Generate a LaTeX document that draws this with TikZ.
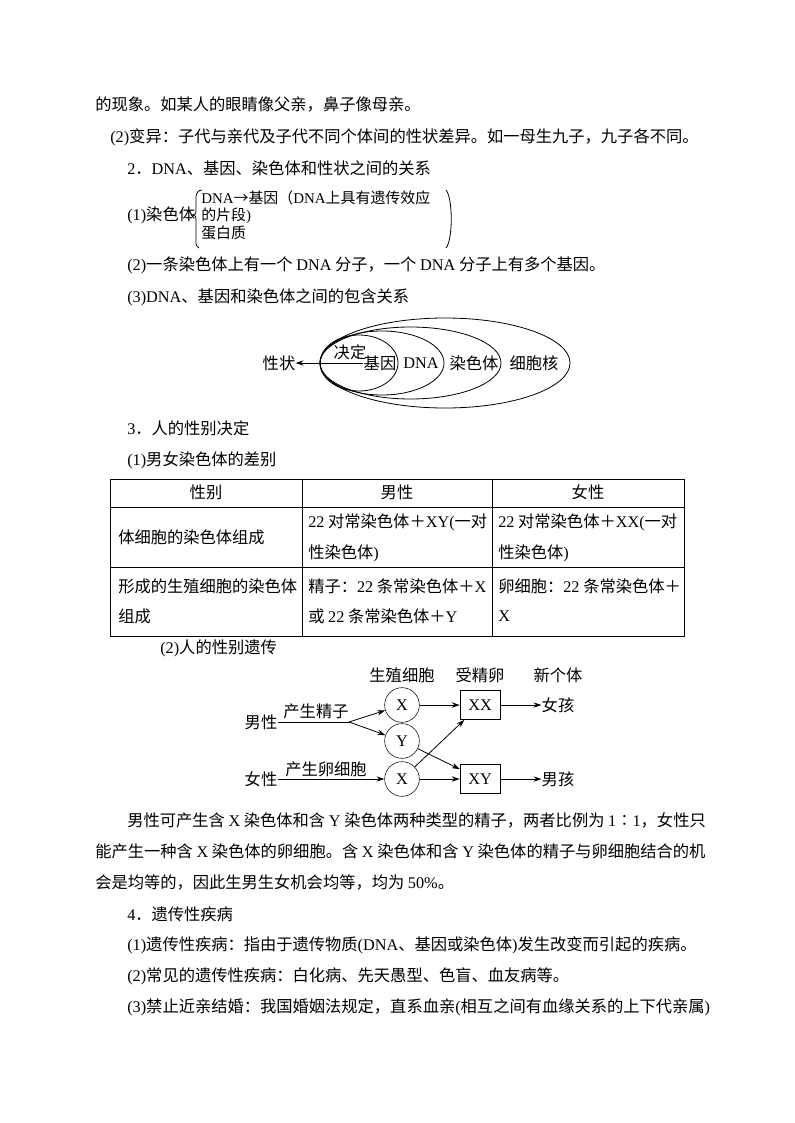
\documentclass[tikz,border=0pt]{standalone}
\usepackage{fontspec}
\setmainfont{Noto Sans CJK SC}
\newfontfamily\lt{Liberation Serif}
\newcommand{\Ls}[1]{{\lt #1}}
\usetikzlibrary{arrows.meta}
\begin{document}
\begin{tikzpicture}[x=0.75pt,y=-0.75pt,
  txt/.style={anchor=west,inner sep=0pt,font=\fontsize{12.2}{14}\selectfont},
  sm/.style={anchor=west,inner sep=0pt,font=\fontsize{11.2}{12}\selectfont},
  ctr/.style={inner sep=0pt,font=\fontsize{12.2}{14}\selectfont},
  cell/.style={circle,draw,minimum size=26,inner sep=0pt,font=\fontsize{12.2}{14}\selectfont},
  box/.style={draw,minimum width=30pt,minimum height=22pt,inner sep=0pt,font=\fontsize{12.2}{14}\selectfont},
  arr/.style={-{Stealth[length=6pt,width=4pt]},line width=0.6pt},
  ln/.style={line width=0.6pt}]
\useasboundingbox (0,0) rectangle (794,1123);
\fill[white] (0,0) rectangle (794,1123);
\node[txt] (l1) at (95,105) {的现象。如某人的眼睛像父亲，鼻子像母亲。};
\node[txt] (l2) at (110,137) {\Ls{(2)}变异：子代与亲代及子代不同个体间的性状差异。如一母生九子，九子各不同。};
\node[txt] (l3) at (127,168) {\Ls{2}．\Ls{DNA}、基因、染色体和性状之间的关系};
\node[txt] (l4) at (127,215) {\Ls{(1)}染色体};
\node[sm] (b1) at (201,198) {\Ls{DNA}→基因（\Ls{DNA}上具有遗传效应};
\node[sm] (b2) at (201,215.5) {的片段\Ls{)}};
\node[sm] (b3) at (201,233) {蛋白质};
\draw[ln] (202,190) .. controls (195,191) and (196,196) .. (196,205) -- (196,211) .. controls (196,214) .. (192,215) .. controls (196,216) .. (196,219) -- (196,240) .. controls (196,246) .. (199,248);
\draw[ln] (446,190) .. controls (453,198) and (453,240) .. (446,248);
\node[txt] (l5) at (127,265) {\Ls{(2)}一条染色体上有一个 \Ls{DNA} 分子，一个 \Ls{DNA} 分子上有多个基因。};
\node[txt] (l6) at (127,297) {\Ls{(3)DNA}、基因和染色体之间的包含关系};
% ellipses
\draw[ln] (359,363) ellipse [x radius=39,y radius=28];
\draw[ln] (382,363) ellipse [x radius=62,y radius=32];
\draw[ln] (410.5,363) ellipse [x radius=90.5,y radius=36];
\draw[ln] (445,363) ellipse [x radius=125,y radius=45];
\node[ctr] (gene) at (380,363) {基因};
\node[ctr] (dna) at (421,363) {\Ls{DNA}};
\node[ctr] (chr) at (474,363) {染色体};
\node[ctr] (nuc) at (534,363) {细胞核};
\node[ctr] (trait) at (279,363) {性状};
\draw[arr] (gene.west) -- (trait.east);
\node[ctr] (jd) at (350,352) {决定};
\node[txt] (l7) at (127,428) {\Ls{3}．人的性别决定};
\node[txt] (l8) at (127,460) {\Ls{(1)}男女染色体的差别};
% table
\draw[ln] (110,479) rectangle (684,636);
\draw[ln] (110,507) -- (684,507);
\draw[ln] (110,567) -- (684,567);
\draw[ln] (302,479) -- (302,636);
\draw[ln] (492,479) -- (492,636);
\node[ctr] (h1) at (206,492) {性别};
\node[ctr] (h2) at (397,492) {男性};
\node[ctr] (h3) at (588,492) {女性};
\node[txt] (c1) at (118,537) {体细胞的染色体组成};
\node[txt] (c2) at (308,522) {\Ls{22} 对常染色体＋\Ls{XY(}一对};
\node[txt] (c2b) at (308,553) {性染色体\Ls{)}};
\node[txt] (c3) at (498,522) {\Ls{22} 对常染色体＋\Ls{XX(}一对};
\node[txt] (c3b) at (498,553) {性染色体\Ls{)}};
\node[txt] (d1) at (118,586) {形成的生殖细胞的染色体};
\node[txt] (d1b) at (118,616) {组成};
\node[txt] (d2) at (308,586) {精子：\Ls{22} 条常染色体＋\Ls{X}};
\node[txt] (d2b) at (308,616) {或 \Ls{22} 条常染色体＋\Ls{Y}};
\node[txt] (d3) at (498,586) {卵细胞：\Ls{22} 条常染色体＋};
\node[txt] (d3b) at (498,616) {\Ls{X}};
\node[txt] (l9) at (160,648) {\Ls{(2)}人的性别遗传};
% inheritance
\node[ctr] (t1) at (402,675) {生殖细胞};
\node[ctr] (t2) at (480,675) {受精卵};
\node[ctr] (t3) at (558,675) {新个体};
\node[cell] (x1) at (402,705) {\Ls{X}};
\node[cell] (y1) at (402,741) {\Ls{Y}};
\node[cell] (x2) at (402,779) {\Ls{X}};
\node[box] (xx) at (480,705) {\Ls{XX}};
\node[box] (xy) at (480,779) {\Ls{XY}};
\node[ctr] (girl) at (558,705) {女孩};
\node[ctr] (boy) at (558,779) {男孩};
\node[ctr] (male) at (261,722) {男性};
\node[ctr] (female) at (261,779) {女性};
\coordinate (br) at (349,722);
\draw[ln] (male.east) -- (br);
\node[ctr] (ps) at (316,711) {产生精子};
\node[ctr] (pl) at (326,769) {产生卵细胞};
\draw[arr] (br) -- (x1);
\draw[arr] (br) -- (y1);
\draw[arr] (female.east) -- (x2);
\draw[arr] (x1) -- (xx);
\draw[arr] (x2) -- (xx);
\draw[arr] (y1) -- (xy);
\draw[arr] (x2) -- (xy);
\draw[arr] (xx) -- (girl);
\draw[arr] (xy) -- (boy);
\node[txt] (p1) at (127,820) {男性可产生含 \Ls{X} 染色体和含 \Ls{Y} 染色体两种类型的精子，两者比例为 \Ls{1}∶\Ls{1}，女性只};
\node[txt] (p2) at (95,851) {能产生一种含 \Ls{X} 染色体的卵细胞。含 \Ls{X} 染色体和含 \Ls{Y} 染色体的精子与卵细胞结合的机};
\node[txt] (p3) at (95,882) {会是均等的，因此生男生女机会均等，均为 \Ls{50\%}。};
\node[txt] (q0) at (127,914) {\Ls{4}．遗传性疾病};
\node[txt] (q1) at (127,945) {\Ls{(1)}遗传性疾病：指由于遗传物质\Ls{(DNA}、基因或染色体\Ls{)}发生改变而引起的疾病。};
\node[txt] (q2) at (127,976) {\Ls{(2)}常见的遗传性疾病：白化病、先天愚型、色盲、血友病等。};
\node[txt] (q3) at (127,1007) {\Ls{(3)}禁止近亲结婚：我国婚姻法规定，直系血亲\Ls{(}相互之间有血缘关系的上下代亲属\Ls{)}};
\end{tikzpicture}
\end{document}
